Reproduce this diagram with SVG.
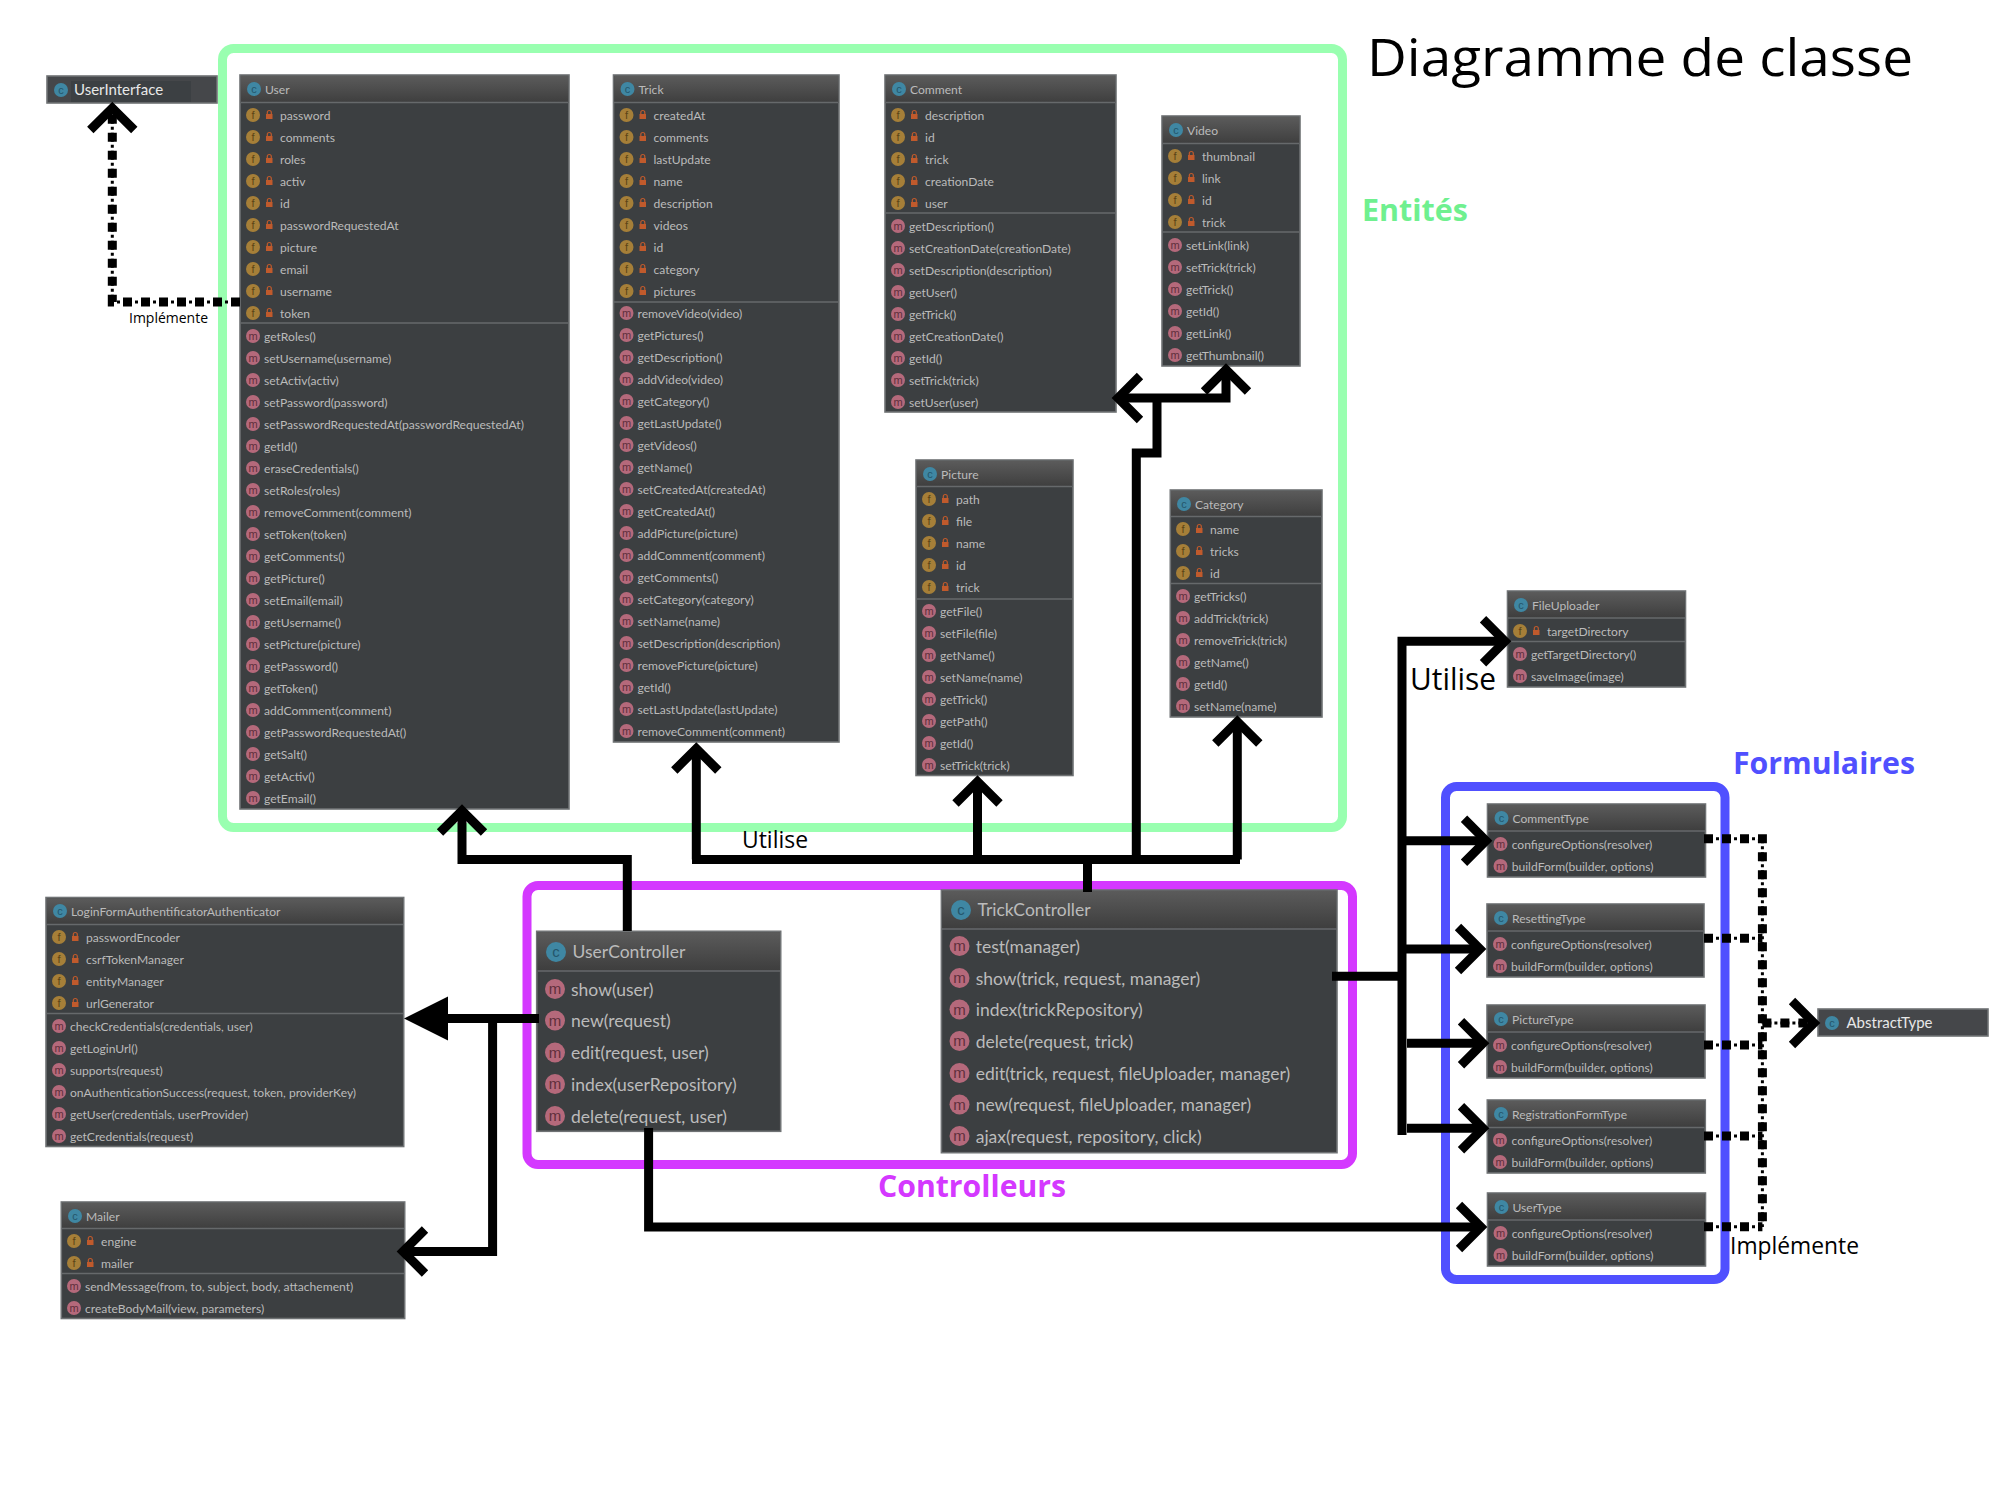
<svg xmlns="http://www.w3.org/2000/svg" width="2000" height="1500" viewBox="0 0 2000 1500">
<style>
text{font-family:"Lato","Liberation Sans",sans-serif}
.b{fill:#3c3f41;stroke:#6f7274;stroke-width:1.6}
.s{stroke:#66696b;stroke-width:1.5;fill:none}
.t{font-size:12.100px;fill:#bbbbbb}
.T{font-size:17.500px;fill:#bbbbbb}
.W{font-size:15px;fill:#e8e8e8}
.fr{fill:none;stroke-width:9}
.c{fill:none;stroke:#000;stroke-width:9}
.d1{fill:none;stroke:#000;stroke-width:9;stroke-dasharray:9 9}
.d2{fill:none;stroke:#000;stroke-width:3;stroke-dasharray:3 3}
.l{font-family:"Open Sans","Noto Sans",sans-serif;fill:#000}
.h{font-family:"Open Sans","Noto Sans",sans-serif;font-weight:700;font-size:31px}
.il{font-size:11px;font-family:"Liberation Sans",sans-serif;text-anchor:middle}
</style>
<defs>
<linearGradient id="hg" x1="0" y1="0" x2="0" y2="1"><stop offset="0" stop-color="#5b5b5b"/><stop offset="1" stop-color="#3e3e3e"/></linearGradient>
<marker id="open" markerUnits="userSpaceOnUse" markerWidth="40" markerHeight="60" viewBox="0 0 40 60" refX="32" refY="30" orient="auto" overflow="visible"><path d="M10 8L32 30L10 52" fill="none" stroke="#000" stroke-width="9"/></marker>
<marker id="fill" markerUnits="userSpaceOnUse" markerWidth="50" markerHeight="50" viewBox="0 0 50 50" refX="0" refY="25" orient="auto" overflow="visible"><path d="M0 3L44 25L0 47Z" fill="#000"/></marker>
<g id="ic"><circle r="7" fill="#3f87a3"/><text class="il" y="3.500" fill="#24566b">c</text></g>
<g id="im"><circle r="7" fill="#b5697b"/><text class="il" y="3.500" fill="#5f2f3b">m</text></g>
<g id="if"><circle r="7" fill="#a67f38"/><text class="il" y="4" fill="#5b4416">f</text><rect x="13" y="-1" width="6.500" height="5" fill="#c05a2c"/><path d="M14.300 -1v-1.500a2 2 0 0 1 4 0v1.500" fill="none" stroke="#c05a2c" stroke-width="1.200"/></g>
<g id="Ic"><circle r="10" fill="#3f87a3"/><text class="il" y="5" fill="#24566b" style="font-size:15px">c</text></g>
<g id="Im"><circle r="10" fill="#b5697b"/><text class="il" y="5" fill="#5f2f3b" style="font-size:15px">m</text></g>
</defs>
<rect width="2000" height="1500" fill="#fff"/>

<g id="frames">
<rect class="fr" x="222.500" y="48.500" width="1120" height="779" rx="11" stroke="#99ffb0"/>
<rect class="fr" x="527" y="885.500" width="825.500" height="279" rx="11" stroke="#d438ff"/>
<rect class="fr" x="1445.500" y="786.500" width="279.500" height="493" rx="11" stroke="#5050ff"/>
</g>

<g id="titles">
<text class="l" x="1367" y="76" font-size="51" textLength="546" lengthAdjust="spacingAndGlyphs">Diagramme de classe</text>
<text class="h" x="1362" y="221" fill="#6ff08f" textLength="106" lengthAdjust="spacingAndGlyphs">Entités</text>
<text class="h" x="1733" y="774" fill="#5050ff" textLength="182" lengthAdjust="spacingAndGlyphs">Formulaires</text>
<text class="h" x="878" y="1197" fill="#d438ff" textLength="188" lengthAdjust="spacingAndGlyphs">Controlleurs</text>
<text class="l" x="742" y="848" font-size="23" textLength="66" lengthAdjust="spacingAndGlyphs">Utilise</text>
<text class="l" x="1410" y="690" font-size="31" textLength="86" lengthAdjust="spacingAndGlyphs">Utilise</text>
<text class="l" x="129" y="323" font-size="15" textLength="79" lengthAdjust="spacingAndGlyphs">Implémente</text>
<text class="l" x="1730" y="1254" font-size="24" textLength="129" lengthAdjust="spacingAndGlyphs">Implémente</text>
</g>

<g id="UserInterface">
<rect class="b" x="47" y="76" width="170" height="27" style="fill:#45474a"/>
<rect x="71" y="81" width="120" height="21" fill="#3c4043"/>
<use href="#ic" x="61" y="90"/>
<text class="W" x="74" y="95">UserInterface</text>
</g>

<g id="User">
<rect class="b" x="240" y="75" width="329" height="734"/>
<rect x="240.800" y="75.800" width="327.400" height="27" fill="url(#hg)"/>
<path class="s" d="M241 102.500H568M241 323H568"/>
<use href="#ic" x="254" y="89"/><text class="t" x="265" y="94">User</text>
<use href="#if" x="253" y="115"/><text class="t" x="280" y="119.500">password</text>
<use href="#if" x="253" y="137"/><text class="t" x="280" y="141.500">comments</text>
<use href="#if" x="253" y="159"/><text class="t" x="280" y="163.500">roles</text>
<use href="#if" x="253" y="181"/><text class="t" x="280" y="185.500">activ</text>
<use href="#if" x="253" y="203"/><text class="t" x="280" y="207.500">id</text>
<use href="#if" x="253" y="225"/><text class="t" x="280" y="229.500">passwordRequestedAt</text>
<use href="#if" x="253" y="247"/><text class="t" x="280" y="251.500">picture</text>
<use href="#if" x="253" y="269"/><text class="t" x="280" y="273.500">email</text>
<use href="#if" x="253" y="291"/><text class="t" x="280" y="295.500">username</text>
<use href="#if" x="253" y="313"/><text class="t" x="280" y="317.500">token</text>
<use href="#im" x="253" y="336"/><text class="t" x="264" y="340.500">getRoles()</text>
<use href="#im" x="253" y="358"/><text class="t" x="264" y="362.500">setUsername(username)</text>
<use href="#im" x="253" y="380"/><text class="t" x="264" y="384.500">setActiv(activ)</text>
<use href="#im" x="253" y="402"/><text class="t" x="264" y="406.500">setPassword(password)</text>
<use href="#im" x="253" y="424"/><text class="t" x="264" y="428.500">setPasswordRequestedAt(passwordRequestedAt)</text>
<use href="#im" x="253" y="446"/><text class="t" x="264" y="450.500">getId()</text>
<use href="#im" x="253" y="468"/><text class="t" x="264" y="472.500">eraseCredentials()</text>
<use href="#im" x="253" y="490"/><text class="t" x="264" y="494.500">setRoles(roles)</text>
<use href="#im" x="253" y="512"/><text class="t" x="264" y="516.500">removeComment(comment)</text>
<use href="#im" x="253" y="534"/><text class="t" x="264" y="538.500">setToken(token)</text>
<use href="#im" x="253" y="556"/><text class="t" x="264" y="560.500">getComments()</text>
<use href="#im" x="253" y="578"/><text class="t" x="264" y="582.500">getPicture()</text>
<use href="#im" x="253" y="600"/><text class="t" x="264" y="604.500">setEmail(email)</text>
<use href="#im" x="253" y="622"/><text class="t" x="264" y="626.500">getUsername()</text>
<use href="#im" x="253" y="644"/><text class="t" x="264" y="648.500">setPicture(picture)</text>
<use href="#im" x="253" y="666"/><text class="t" x="264" y="670.500">getPassword()</text>
<use href="#im" x="253" y="688"/><text class="t" x="264" y="692.500">getToken()</text>
<use href="#im" x="253" y="710"/><text class="t" x="264" y="714.500">addComment(comment)</text>
<use href="#im" x="253" y="732"/><text class="t" x="264" y="736.500">getPasswordRequestedAt()</text>
<use href="#im" x="253" y="754"/><text class="t" x="264" y="758.500">getSalt()</text>
<use href="#im" x="253" y="776"/><text class="t" x="264" y="780.500">getActiv()</text>
<use href="#im" x="253" y="798"/><text class="t" x="264" y="802.500">getEmail()</text>
</g>

<g id="Trick">
<rect class="b" x="613.500" y="75" width="225.500" height="667"/>
<rect x="614.300" y="75.800" width="224" height="27" fill="url(#hg)"/>
<path class="s" d="M614 102.500H838M614 302H838"/>
<use href="#ic" x="627.500" y="89"/><text class="t" x="638.500" y="94">Trick</text>
<use href="#if" x="626.500" y="115"/><text class="t" x="653.500" y="119.500">createdAt</text>
<use href="#if" x="626.500" y="137"/><text class="t" x="653.500" y="141.500">comments</text>
<use href="#if" x="626.500" y="159"/><text class="t" x="653.500" y="163.500">lastUpdate</text>
<use href="#if" x="626.500" y="181"/><text class="t" x="653.500" y="185.500">name</text>
<use href="#if" x="626.500" y="203"/><text class="t" x="653.500" y="207.500">description</text>
<use href="#if" x="626.500" y="225"/><text class="t" x="653.500" y="229.500">videos</text>
<use href="#if" x="626.500" y="247"/><text class="t" x="653.500" y="251.500">id</text>
<use href="#if" x="626.500" y="269"/><text class="t" x="653.500" y="273.500">category</text>
<use href="#if" x="626.500" y="291"/><text class="t" x="653.500" y="295.500">pictures</text>
<use href="#im" x="626.500" y="313"/><text class="t" x="637.500" y="317.500">removeVideo(video)</text>
<use href="#im" x="626.500" y="335"/><text class="t" x="637.500" y="339.500">getPictures()</text>
<use href="#im" x="626.500" y="357"/><text class="t" x="637.500" y="361.500">getDescription()</text>
<use href="#im" x="626.500" y="379"/><text class="t" x="637.500" y="383.500">addVideo(video)</text>
<use href="#im" x="626.500" y="401"/><text class="t" x="637.500" y="405.500">getCategory()</text>
<use href="#im" x="626.500" y="423"/><text class="t" x="637.500" y="427.500">getLastUpdate()</text>
<use href="#im" x="626.500" y="445"/><text class="t" x="637.500" y="449.500">getVideos()</text>
<use href="#im" x="626.500" y="467"/><text class="t" x="637.500" y="471.500">getName()</text>
<use href="#im" x="626.500" y="489"/><text class="t" x="637.500" y="493.500">setCreatedAt(createdAt)</text>
<use href="#im" x="626.500" y="511"/><text class="t" x="637.500" y="515.500">getCreatedAt()</text>
<use href="#im" x="626.500" y="533"/><text class="t" x="637.500" y="537.500">addPicture(picture)</text>
<use href="#im" x="626.500" y="555"/><text class="t" x="637.500" y="559.500">addComment(comment)</text>
<use href="#im" x="626.500" y="577"/><text class="t" x="637.500" y="581.500">getComments()</text>
<use href="#im" x="626.500" y="599"/><text class="t" x="637.500" y="603.500">setCategory(category)</text>
<use href="#im" x="626.500" y="621"/><text class="t" x="637.500" y="625.500">setName(name)</text>
<use href="#im" x="626.500" y="643"/><text class="t" x="637.500" y="647.500">setDescription(description)</text>
<use href="#im" x="626.500" y="665"/><text class="t" x="637.500" y="669.500">removePicture(picture)</text>
<use href="#im" x="626.500" y="687"/><text class="t" x="637.500" y="691.500">getId()</text>
<use href="#im" x="626.500" y="709"/><text class="t" x="637.500" y="713.500">setLastUpdate(lastUpdate)</text>
<use href="#im" x="626.500" y="731"/><text class="t" x="637.500" y="735.500">removeComment(comment)</text>
</g>

<g id="Comment">
<rect class="b" x="885" y="75" width="231" height="337"/>
<rect x="885.800" y="75.800" width="229.400" height="27" fill="url(#hg)"/>
<path class="s" d="M886 102.500H1115M886 213H1115"/>
<use href="#ic" x="899" y="89"/><text class="t" x="910" y="94">Comment</text>
<use href="#if" x="898" y="115"/><text class="t" x="925" y="119.500">description</text>
<use href="#if" x="898" y="137"/><text class="t" x="925" y="141.500">id</text>
<use href="#if" x="898" y="159"/><text class="t" x="925" y="163.500">trick</text>
<use href="#if" x="898" y="181"/><text class="t" x="925" y="185.500">creationDate</text>
<use href="#if" x="898" y="203"/><text class="t" x="925" y="207.500">user</text>
<use href="#im" x="898" y="226"/><text class="t" x="909" y="230.500">getDescription()</text>
<use href="#im" x="898" y="248"/><text class="t" x="909" y="252.500">setCreationDate(creationDate)</text>
<use href="#im" x="898" y="270"/><text class="t" x="909" y="274.500">setDescription(description)</text>
<use href="#im" x="898" y="292"/><text class="t" x="909" y="296.500">getUser()</text>
<use href="#im" x="898" y="314"/><text class="t" x="909" y="318.500">getTrick()</text>
<use href="#im" x="898" y="336"/><text class="t" x="909" y="340.500">getCreationDate()</text>
<use href="#im" x="898" y="358"/><text class="t" x="909" y="362.500">getId()</text>
<use href="#im" x="898" y="380"/><text class="t" x="909" y="384.500">setTrick(trick)</text>
<use href="#im" x="898" y="402"/><text class="t" x="909" y="406.500">setUser(user)</text>
</g>

<g id="Video">
<rect class="b" x="1162" y="116" width="138" height="250"/>
<rect x="1162.800" y="116.800" width="136.400" height="27" fill="url(#hg)"/>
<path class="s" d="M1163 143.500H1299M1163 232H1299"/>
<use href="#ic" x="1176" y="130"/><text class="t" x="1187" y="135">Video</text>
<use href="#if" x="1175" y="156"/><text class="t" x="1202" y="160.500">thumbnail</text>
<use href="#if" x="1175" y="178"/><text class="t" x="1202" y="182.500">link</text>
<use href="#if" x="1175" y="200"/><text class="t" x="1202" y="204.500">id</text>
<use href="#if" x="1175" y="222"/><text class="t" x="1202" y="226.500">trick</text>
<use href="#im" x="1175" y="245"/><text class="t" x="1186" y="249.500">setLink(link)</text>
<use href="#im" x="1175" y="267"/><text class="t" x="1186" y="271.500">setTrick(trick)</text>
<use href="#im" x="1175" y="289"/><text class="t" x="1186" y="293.500">getTrick()</text>
<use href="#im" x="1175" y="311"/><text class="t" x="1186" y="315.500">getId()</text>
<use href="#im" x="1175" y="333"/><text class="t" x="1186" y="337.500">getLink()</text>
<use href="#im" x="1175" y="355"/><text class="t" x="1186" y="359.500">getThumbnail()</text>
</g>

<g id="Picture">
<rect class="b" x="916" y="460" width="157" height="315.500"/>
<rect x="916.800" y="460.800" width="155.400" height="26" fill="url(#hg)"/>
<path class="s" d="M917 486.500H1072M917 599H1072"/>
<use href="#ic" x="930" y="474"/><text class="t" x="941" y="479">Picture</text>
<use href="#if" x="929" y="499"/><text class="t" x="956" y="503.500">path</text>
<use href="#if" x="929" y="521"/><text class="t" x="956" y="525.500">file</text>
<use href="#if" x="929" y="543"/><text class="t" x="956" y="547.500">name</text>
<use href="#if" x="929" y="565"/><text class="t" x="956" y="569.500">id</text>
<use href="#if" x="929" y="587"/><text class="t" x="956" y="591.500">trick</text>
<use href="#im" x="929" y="611"/><text class="t" x="940" y="615.500">getFile()</text>
<use href="#im" x="929" y="633"/><text class="t" x="940" y="637.500">setFile(file)</text>
<use href="#im" x="929" y="655"/><text class="t" x="940" y="659.500">getName()</text>
<use href="#im" x="929" y="677"/><text class="t" x="940" y="681.500">setName(name)</text>
<use href="#im" x="929" y="699"/><text class="t" x="940" y="703.500">getTrick()</text>
<use href="#im" x="929" y="721"/><text class="t" x="940" y="725.500">getPath()</text>
<use href="#im" x="929" y="743"/><text class="t" x="940" y="747.500">getId()</text>
<use href="#im" x="929" y="765"/><text class="t" x="940" y="769.500">setTrick(trick)</text>
</g>

<g id="Category">
<rect class="b" x="1170.300" y="490" width="151.700" height="227"/>
<rect x="1171" y="490.800" width="150.200" height="26" fill="url(#hg)"/>
<path class="s" d="M1171 516.500H1321M1171 583.500H1321"/>
<use href="#ic" x="1184" y="504"/><text class="t" x="1195" y="509">Category</text>
<use href="#if" x="1183" y="529"/><text class="t" x="1210" y="533.500">name</text>
<use href="#if" x="1183" y="551"/><text class="t" x="1210" y="555.500">tricks</text>
<use href="#if" x="1183" y="573"/><text class="t" x="1210" y="577.500">id</text>
<use href="#im" x="1183" y="596"/><text class="t" x="1194" y="600.500">getTricks()</text>
<use href="#im" x="1183" y="618"/><text class="t" x="1194" y="622.500">addTrick(trick)</text>
<use href="#im" x="1183" y="640"/><text class="t" x="1194" y="644.500">removeTrick(trick)</text>
<use href="#im" x="1183" y="662"/><text class="t" x="1194" y="666.500">getName()</text>
<use href="#im" x="1183" y="684"/><text class="t" x="1194" y="688.500">getId()</text>
<use href="#im" x="1183" y="706"/><text class="t" x="1194" y="710.500">setName(name)</text>
</g>

<g id="FileUploader">
<rect class="b" x="1507.500" y="591" width="178" height="96"/>
<rect x="1508.300" y="591.800" width="176.400" height="26" fill="url(#hg)"/>
<path class="s" d="M1508 618H1685M1508 641.500H1685"/>
<use href="#ic" x="1521" y="605"/><text class="t" x="1532" y="610">FileUploader</text>
<use href="#if" x="1520" y="631"/><text class="t" x="1547" y="635.500">targetDirectory</text>
<use href="#im" x="1520" y="654"/><text class="t" x="1531" y="658.500">getTargetDirectory()</text>
<use href="#im" x="1520" y="676"/><text class="t" x="1531" y="680.500">saveImage(image)</text>
</g>

<g id="CommentType">
<rect class="b" x="1487.500" y="804" width="218" height="73"/>
<rect x="1488.300" y="804.800" width="216.400" height="26" fill="url(#hg)"/>
<path class="s" d="M1488 831H1705"/>
<use href="#ic" x="1501.500" y="818"/><text class="t" x="1512.500" y="823">CommentType</text>
<use href="#im" x="1500.500" y="844"/><text class="t" x="1511.700" y="848.500">configureOptions(resolver)</text>
<use href="#im" x="1500.500" y="866"/><text class="t" x="1511.700" y="870.500">buildForm(builder, options)</text>
</g>
<g id="ResettingType">
<rect class="b" x="1487" y="904" width="217" height="73"/>
<rect x="1487.800" y="904.800" width="215.400" height="26" fill="url(#hg)"/>
<path class="s" d="M1488 931H1703"/>
<use href="#ic" x="1501" y="918"/><text class="t" x="1512" y="923">ResettingType</text>
<use href="#im" x="1500" y="944"/><text class="t" x="1511" y="948.500">configureOptions(resolver)</text>
<use href="#im" x="1500" y="966"/><text class="t" x="1511" y="970.500">buildForm(builder, options)</text>
</g>
<g id="PictureType">
<rect class="b" x="1487" y="1005" width="218" height="73"/>
<rect x="1487.800" y="1005.800" width="216.400" height="26" fill="url(#hg)"/>
<path class="s" d="M1488 1032H1704"/>
<use href="#ic" x="1501" y="1019"/><text class="t" x="1512" y="1024">PictureType</text>
<use href="#im" x="1500" y="1045"/><text class="t" x="1511" y="1049.500">configureOptions(resolver)</text>
<use href="#im" x="1500" y="1067"/><text class="t" x="1511" y="1071.500">buildForm(builder, options)</text>
</g>
<g id="RegistrationFormType">
<rect class="b" x="1487.300" y="1100" width="218" height="73"/>
<rect x="1488.100" y="1100.800" width="216.400" height="26" fill="url(#hg)"/>
<path class="s" d="M1488 1127.500H1704"/>
<use href="#ic" x="1501" y="1114"/><text class="t" x="1512" y="1119">RegistrationFormType</text>
<use href="#im" x="1500" y="1140"/><text class="t" x="1511.500" y="1144.500">configureOptions(resolver)</text>
<use href="#im" x="1500" y="1162"/><text class="t" x="1511.500" y="1166.500">buildForm(builder, options)</text>
</g>
<g id="UserType">
<rect class="b" x="1487.500" y="1193" width="218" height="73"/>
<rect x="1488.300" y="1193.800" width="216.400" height="26" fill="url(#hg)"/>
<path class="s" d="M1488 1220H1705"/>
<use href="#ic" x="1501.500" y="1207"/><text class="t" x="1512.500" y="1212">UserType</text>
<use href="#im" x="1500.500" y="1233"/><text class="t" x="1511.700" y="1237.500">configureOptions(resolver)</text>
<use href="#im" x="1500.500" y="1255"/><text class="t" x="1511.700" y="1259.500">buildForm(builder, options)</text>
</g>

<g id="AbstractType">
<rect class="b" x="1818" y="1009" width="170" height="27" style="fill:#45474a"/>
<use href="#ic" x="1832" y="1023"/>
<text class="W" x="1846.500" y="1028">AbstractType</text>
</g>

<g id="LoginFormAuthentificatorAuthenticator">
<rect class="b" x="46" y="897.500" width="357.700" height="249"/>
<rect x="46.800" y="898.300" width="356" height="26" fill="url(#hg)"/>
<path class="s" d="M47 924.500H403M47 1013.500H403"/>
<use href="#ic" x="60" y="911"/><text class="t" x="71" y="916">LoginFormAuthentificatorAuthenticator</text>
<use href="#if" x="59" y="937"/><text class="t" x="86" y="941.500">passwordEncoder</text>
<use href="#if" x="59" y="959"/><text class="t" x="86" y="963.500">csrfTokenManager</text>
<use href="#if" x="59" y="981"/><text class="t" x="86" y="985.500">entityManager</text>
<use href="#if" x="59" y="1003"/><text class="t" x="86" y="1007.500">urlGenerator</text>
<use href="#im" x="59" y="1026"/><text class="t" x="70" y="1030.500">checkCredentials(credentials, user)</text>
<use href="#im" x="59" y="1048"/><text class="t" x="70" y="1052.500">getLoginUrl()</text>
<use href="#im" x="59" y="1070"/><text class="t" x="70" y="1074.500">supports(request)</text>
<use href="#im" x="59" y="1092"/><text class="t" x="70" y="1096.500">onAuthenticationSuccess(request, token, providerKey)</text>
<use href="#im" x="59" y="1114"/><text class="t" x="70" y="1118.500">getUser(credentials, userProvider)</text>
<use href="#im" x="59" y="1136"/><text class="t" x="70" y="1140.500">getCredentials(request)</text>
</g>

<g id="Mailer">
<rect class="b" x="61.300" y="1202" width="343.400" height="116.500"/>
<rect x="62.100" y="1202.800" width="341.800" height="26" fill="url(#hg)"/>
<path class="s" d="M62 1228.500H404M62 1273.500H404"/>
<use href="#ic" x="75" y="1216"/><text class="t" x="86" y="1221">Mailer</text>
<use href="#if" x="74" y="1241"/><text class="t" x="101" y="1245.500">engine</text>
<use href="#if" x="74" y="1263"/><text class="t" x="101" y="1267.500">mailer</text>
<use href="#im" x="74" y="1286"/><text class="t" x="85" y="1290.500">sendMessage(from, to, subject, body, attachement)</text>
<use href="#im" x="74" y="1308"/><text class="t" x="85" y="1312.500">createBodyMail(view, parameters)</text>
</g>

<g id="UserController">
<rect class="b" x="536.700" y="931.300" width="244" height="200"/>
<rect x="537.500" y="932.100" width="242.500" height="38" fill="url(#hg)"/>
<path class="s" d="M538 971H780"/>
<use href="#Ic" x="556" y="952"/><text class="T" x="572.500" y="958">UserController</text>
<use href="#Im" x="555" y="989"/><text class="T" x="571" y="995.500">show(user)</text>
<use href="#Im" x="555" y="1020.500"/><text class="T" x="571" y="1027">new(request)</text>
<use href="#Im" x="555" y="1052.500"/><text class="T" x="571" y="1059">edit(request, user)</text>
<use href="#Im" x="555" y="1084"/><text class="T" x="571" y="1090.500">index(userRepository)</text>
<use href="#Im" x="555" y="1116"/><text class="T" x="571" y="1122.500">delete(request, user)</text>
</g>

<g id="TrickController">
<rect class="b" x="941.400" y="890" width="395.600" height="262.700"/>
<rect x="942.200" y="890.800" width="394" height="37.500" fill="url(#hg)"/>
<path class="s" d="M942 929H1336"/>
<use href="#Ic" x="961" y="910"/><text class="T" x="977.500" y="916">TrickController</text>
<use href="#Im" x="959.500" y="946"/><text class="T" x="975.700" y="952.500">test(manager)</text>
<use href="#Im" x="959.500" y="978"/><text class="T" x="975.700" y="984.500">show(trick, request, manager)</text>
<use href="#Im" x="959.500" y="1009.500"/><text class="T" x="975.700" y="1016">index(trickRepository)</text>
<use href="#Im" x="959.500" y="1041"/><text class="T" x="975.700" y="1047.500">delete(request, trick)</text>
<use href="#Im" x="959.500" y="1073"/><text class="T" x="975.700" y="1079.500">edit(trick, request, fileUploader, manager)</text>
<use href="#Im" x="959.500" y="1104.500"/><text class="T" x="975.700" y="1111">new(request, fileUploader, manager)</text>
<use href="#Im" x="959.500" y="1136"/><text class="T" x="975.700" y="1142.500">ajax(request, repository, click)</text>
</g>

<g id="connectors">
<path class="c" d="M627.300 931V859.500H462V810.500" marker-end="url(#open)"/>
<path class="c" d="M696.300 859.500V748.500" marker-end="url(#open)"/>
<path class="c" d="M692 859.500H1240"/>
<path class="c" d="M977.500 859.500V781.500" marker-end="url(#open)"/>
<path class="c" d="M1237.300 859.500V721.500" marker-end="url(#open)"/>
<path class="c" d="M1087.500 892V859.500"/>
<path class="c" d="M1136.300 859.500V453H1157V398"/>
<path class="c" d="M1157 398H1118" marker-end="url(#open)"/>
<path class="c" d="M1157 398H1226V369.500" marker-end="url(#open)"/>
<path class="c" d="M539 1018.500H448" marker-end="url(#fill)"/>
<path class="c" d="M492.600 1018.500V1251.500H403" marker-end="url(#open)"/>
<path class="c" d="M648.600 1128V1227H1481" marker-end="url(#open)"/>
<path class="c" d="M1332 976.300H1402"/>
<path class="c" d="M1402 1135V641.300H1505" marker-end="url(#open)"/>
<path class="c" d="M1402 840.700H1486" marker-end="url(#open)"/>
<path class="c" d="M1402 949H1480" marker-end="url(#open)"/>
<path class="c" d="M1407 1043.300H1483" marker-end="url(#open)"/>
<path class="c" d="M1407 1128.300H1483" marker-end="url(#open)"/>
<path class="d1" d="M240 302H112.300V108" marker-end="url(#open)"/>
<path class="d2" d="M240 302H112.300V108"/>
<path class="d1" d="M1704 838.700H1762.400V1227"/>
<path class="d2" d="M1704 838.700H1762.400V1227"/>
<path class="d1" d="M1704 938.300H1762.400"/>
<path class="d2" d="M1704 938.300H1762.400"/>
<path class="d1" d="M1704 1045H1762.400"/>
<path class="d2" d="M1704 1045H1762.400"/>
<path class="d1" d="M1704 1136H1762.400"/>
<path class="d2" d="M1704 1136H1762.400"/>
<path class="d1" d="M1704 1226.700H1762.400"/>
<path class="d2" d="M1704 1226.700H1762.400"/>
<path class="d1" d="M1762.400 1023H1814" marker-end="url(#open)"/>
<path class="d2" d="M1762.400 1023H1814"/>
</g>
</svg>
